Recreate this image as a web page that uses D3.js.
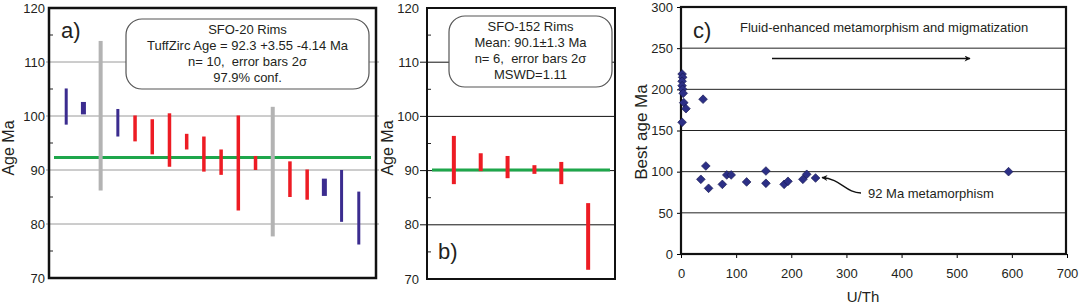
<!DOCTYPE html>
<html>
<head>
<meta charset="utf-8">
<script src="https://cdnjs.cloudflare.com/ajax/libs/d3/7.8.5/d3.min.js"></script>
<style>
	body { margin: 0; background: #fff; }
	svg { display: block; font-family: 'Liberation Sans', Arial, sans-serif; }
	text { fill: #231f20; white-space: pre; }
</style>
</head>
<body>
<div id="chart"></div>
<script>
/* global d3 */

// a) SFO-20 rims, ages with 2 sigma error bars (Ma)
var sfo20Lo   = [98.4, 100.3, 86.2, 96.2, 95.3, 92.9, 90.6, 93.8, 89.7, 89.1, 82.5, 90.0, 77.7, 85.0, 84.5, 85.2, 80.4, 76.2];
var sfo20Hi   = [105.1, 102.6, 113.9, 101.3, 100.1, 99.4, 100.5, 96.7, 96.2, 93.8, 100.1, 92.6, 101.7, 91.6, 90.1, 88.4, 90.0, 86.0];
var sfo20Kind = ['out', 'out', 'grey', 'out', 'in', 'in', 'in', 'in', 'in', 'in', 'in', 'in', 'grey', 'in', 'in', 'out', 'out', 'out'];
var sfo20Age  = 92.3;
var sfo20Box  = ['SFO-20 Rims', 'TuffZirc Age = 92.3 +3.55 -4.14 Ma', 'n= 10,  error bars 2\u03c3', '97.9% conf.'];

// b) SFO-152 rims
var sfo152Lo   = [87.5, 89.9, 88.6, 89.4, 87.5, 71.7];
var sfo152Hi   = [96.4, 93.2, 92.7, 91.0, 91.6, 84.0];
var sfo152Kind = ['in', 'in', 'in', 'in', 'in', 'in'];
var sfo152Mean = 90.1;
var sfo152Box  = ['SFO-152 Rims', 'Mean: 90.1\u00b11.3 Ma', 'n= 6,  error bars 2\u03c3', 'MSWD=1.11'];

// c) best age vs U/Th
var uth     = [2, 3, 2, 2, 3, 4, 5, 9, 2, 40, 36, 45, 50, 75, 83, 91, 119, 154, 154, 187, 194, 221, 228, 244, 594];
var bestAge = [218.6, 214.6, 209.8, 204.4, 200.1, 195.2, 183.8, 176.5, 160, 188, 90.7, 106.9, 79.8, 84.6, 96, 96, 87.5, 100.8, 85.9, 84.6, 88.3, 90.7, 96.8, 92.3, 100];

var ageTicks  = [70, 80, 90, 100, 110, 120];
var ageMinor  = [75, 85, 95, 105, 115];
var cAgeTicks = [0, 50, 100, 150, 200, 250, 300];
var cUthTicks = [0, 100, 200, 300, 400, 500, 600, 700];

var colors = { in: '#ed1c24', out: '#3b2c8f', grey: '#b3b3b3', mean: '#1ea64b', dot: '#2c2f86' };

var svg = d3.select('#chart').append('svg')
	.attr('width', 1080)
	.attr('height', 305);

svg.append('defs').append('marker')
	.attr('id', 'head')
	.attr('viewBox', '0 0 10 10')
	.attr('refX', 9).attr('refY', 5)
	.attr('markerWidth', 9).attr('markerHeight', 6)
	.attr('markerUnits', 'userSpaceOnUse')
	.attr('orient', 'auto')
	.append('path')
		.attr('d', 'M0,0L10,5L0,10L3,5Z')
		.attr('fill', '#111');

function buildAgePanel (cfg) {
	var g = svg.append('g');
	var y = d3.scaleLinear().domain([70, 120]).range([cfg.bottom, cfg.top]);
	var x = d3.scaleLinear().domain([0, cfg.lo.length + 1]).range([cfg.left, cfg.right]);

	// gridlines + major ticks
	g.selectAll('.grid')
		.data(ageTicks.slice(1, -1))
		.enter().append('line')
			.attr('x1', cfg.left - cfg.tickOut).attr('x2', cfg.right + cfg.gridOver)
			.attr('y1', function (d) { return y(d); }).attr('y2', function (d) { return y(d); })
			.attr('stroke', cfg.gridColor).attr('stroke-width', 1);

	g.selectAll('.minor')
		.data(ageMinor)
		.enter().append('line')
			.attr('x1', cfg.left).attr('x2', cfg.left + 4)
			.attr('y1', function (d) { return y(d); }).attr('y2', function (d) { return y(d); })
			.attr('stroke', '#222').attr('stroke-width', 1);

	g.selectAll('.tick-label')
		.data(ageTicks)
		.enter().append('text')
			.attr('x', cfg.labelX)
			.attr('y', function (d) { return y(d); })
			.attr('dy', '0.36em')
			.attr('text-anchor', 'end')
			.style('font-size', '13px')
			.text(function (d) { return d; });

	g.append('text')
		.attr('transform', 'translate(' + cfg.titleX + ',148) rotate(-90)')
		.attr('text-anchor', 'middle')
		.style('font-size', '16px')
		.text('Age Ma');

	// weighted mean
	g.append('line')
		.attr('x1', cfg.left + 5).attr('x2', cfg.right - 5)
		.attr('y1', y(cfg.mean)).attr('y2', y(cfg.mean))
		.attr('stroke', colors.mean).attr('stroke-width', 3);

	// error bars
	g.selectAll('.bar')
		.data(cfg.lo)
		.enter().append('rect')
			.attr('class', 'bar')
			.attr('width', function (d, i) { return cfg.barWidth(cfg.kind[i], cfg.hi[i] - d); })
			.attr('x', function (d, i) { return x(i + 1) - cfg.barWidth(cfg.kind[i], cfg.hi[i] - d) / 2; })
			.attr('y', function (d, i) { return y(cfg.hi[i]); })
			.attr('height', function (d, i) { return y(d) - y(cfg.hi[i]); })
			.attr('fill', function (d, i) { return colors[cfg.kind[i]]; });

	// label box
	g.append('rect')
		.attr('x', cfg.box.x).attr('y', cfg.box.y)
		.attr('width', cfg.box.w).attr('height', cfg.box.h)
		.attr('rx', 16).attr('ry', 16)
		.attr('fill', '#fff').attr('stroke', '#555').attr('stroke-width', 1.2);

	g.selectAll('.box-text')
		.data(cfg.lines)
		.enter().append('text')
			.attr('x', cfg.box.x + cfg.box.w / 2)
			.attr('y', function (d, i) { return cfg.box.y + 15 + i * 16; })
			.attr('text-anchor', 'middle')
			.style('font-size', '13px')
			.text(function (d) { return d; });

	g.append('text')
		.attr('x', cfg.tag.x).attr('y', cfg.tag.y)
		.style('font-size', '22px')
		.text(cfg.tag.text);

	g.append('rect')
		.attr('x', cfg.left).attr('y', cfg.top)
		.attr('width', cfg.right - cfg.left).attr('height', cfg.bottom - cfg.top)
		.attr('fill', 'none').attr('stroke', '#111').attr('stroke-width', cfg.frame);
}

buildAgePanel({
	lo: sfo20Lo, hi: sfo20Hi, kind: sfo20Kind, mean: sfo20Age, lines: sfo20Box,
	left: 49, right: 376, top: 8, bottom: 278,
	tickOut: 3, gridOver: 3, gridColor: '#9a9a9a',
	labelX: 45, titleX: 14, frame: 2.5,
	box: { x: 126, y: 19, w: 243, h: 70 },
	tag: { x: 61, y: 38, text: 'a)' },
	barWidth: function (kind, span) {
		if (kind === 'grey') { return 4; }
		if (kind === 'out') { return span < 3.5 ? 5 : 3; }
		return 3.5;
	}
});

buildAgePanel({
	lo: sfo152Lo, hi: sfo152Hi, kind: sfo152Kind, mean: sfo152Mean, lines: sfo152Box,
	left: 427, right: 615, top: 8, bottom: 279,
	tickOut: 7, gridOver: 0, gridColor: '#111',
	labelX: 419, titleX: 393, frame: 2,
	box: { x: 449, y: 16, w: 163, h: 71 },
	tag: { x: 438, y: 259, text: 'b)' },
	barWidth: function () { return 4; }
});

// c) scatter
function buildScatter () {
	var g = svg.append('g');
	var x = d3.scaleLinear().domain([0, 700]).range([681, 1067]);
	var y = d3.scaleLinear().domain([0, 300]).range([254, 7]);

	g.selectAll('.grid')
		.data(cAgeTicks.slice(1, -1))
		.enter().append('line')
			.attr('x1', x(0)).attr('x2', x(700))
			.attr('y1', function (d) { return y(d); }).attr('y2', function (d) { return y(d); })
			.attr('stroke', '#222').attr('stroke-width', 1);

	g.append('g')
		.attr('transform', 'translate(' + x(0) + ',0)')
		.call(d3.axisLeft(y).tickValues(cAgeTicks).tickSize(4).tickPadding(4))
		.call(function (a) {
			a.select('.domain').remove();
			a.selectAll('text').style('font-size', '13px').attr('fill', '#231f20');
		});

	g.append('g')
		.attr('transform', 'translate(0,' + y(0) + ')')
		.call(d3.axisBottom(x).tickValues(cUthTicks).tickSize(4).tickPadding(11))
		.call(function (a) {
			a.select('.domain').remove();
			a.selectAll('text').style('font-size', '13px').attr('fill', '#231f20');
		});

	g.append('text')
		.attr('x', 863).attr('y', 302)
		.attr('text-anchor', 'middle')
		.style('font-size', '15px')
		.text('U/Th');

	g.append('text')
		.attr('transform', 'translate(647,132) rotate(-90)')
		.attr('text-anchor', 'middle')
		.style('font-size', '17px')
		.text('Best age Ma');

	g.append('rect')
		.attr('x', x(0)).attr('y', y(300))
		.attr('width', x(700) - x(0) - 1).attr('height', y(0) - y(300))
		.attr('fill', 'none').attr('stroke', '#111').attr('stroke-width', 2.2);

	g.selectAll('.dot')
		.data(uth)
		.enter().append('path')
			.attr('class', 'dot')
			.attr('d', d3.symbol(d3.symbolSquare, 38))
			.attr('transform', function (d, i) {
				return 'translate(' + x(d) + ',' + y(bestAge[i]) + ') rotate(45)';
			})
			.attr('fill', colors.dot)
			.attr('stroke', '#14164d')
			.attr('stroke-width', 0.6);

	// annotations
	g.append('text')
		.attr('x', 693).attr('y', 38)
		.style('font-size', '22px')
		.text('c)');

	g.append('text')
		.attr('x', 740).attr('y', 32)
		.style('font-size', '13px')
		.text('Fluid-enhanced metamorphism and migmatization');

	g.append('line')
		.attr('x1', 772).attr('x2', 970)
		.attr('y1', 58.5).attr('y2', 58.5)
		.attr('stroke', '#111').attr('stroke-width', 1.3)
		.attr('marker-end', 'url(#head)');

	g.append('path')
		.attr('d', 'M861,193 C846,193 841,179 822,177.5')
		.attr('fill', 'none')
		.attr('stroke', '#111').attr('stroke-width', 1.3)
		.attr('marker-end', 'url(#head)');

	g.append('text')
		.attr('x', 868).attr('y', 198)
		.style('font-size', '13px')
		.text('92 Ma metamorphism');
}

buildScatter();
</script>
</body>
</html>
